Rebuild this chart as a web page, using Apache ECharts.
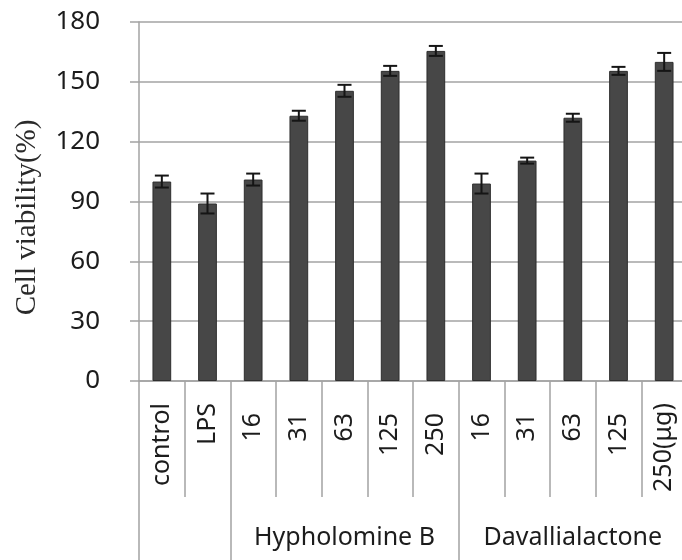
<!DOCTYPE html>
<html>
<head>
<meta charset="utf-8">
<script src="https://cdn.jsdelivr.net/npm/echarts@6/dist/echarts.min.js"></script>
<style>
  html, body { margin: 0; padding: 0; background: #ffffff; }
  #chart { width: 682px; height: 560px; }
</style>
</head>
<body>
<div id="chart"></div>
<script>
// Treatment labels along the category axis
const categories = ['control', 'LPS', '16', '31', '63', '125', '250', '16', '31', '63', '125', '250(μg)'];
// Mean cell viability (%) for each treatment
const viability = [100, 89, 101, 133, 145.5, 155.5, 165.5, 99, 110.5, 132, 155.5, 160];
// Standard deviation for each treatment
const deviation = [3, 5, 3, 2.5, 3, 2.5, 2.5, 5, 1.5, 2, 2, 4.5];
// Compound groups spanning the categories (name, number of categories)
const groupNames = ['', 'Hypholomine B', 'Davallialactone'];
const groupSizes = [2, 5, 5];
// Y-axis ticks
const yTicks = [0, 30, 60, 90, 120, 150, 180];

// Group boundaries and centres in category units
const groupEdges = [0];
groupSizes.forEach(function (s) { groupEdges.push(groupEdges[groupEdges.length - 1] + s); });
const groupCentres = groupSizes.map(function (s, i) { return groupEdges[i] + s / 2; });

const font = '"Noto Sans", "Noto Sans CJK KR", sans-serif';
const gridColor = '#a3a3a3';
const textColor = '#1c1c1c';

const chart = echarts.init(document.getElementById('chart'), null, { renderer: 'canvas' });

chart.setOption({
  backgroundColor: '#ffffff',
  animation: false,
  grid: { left: 139, right: -5, top: 22, bottom: 179, containLabel: false, outerBoundsMode: 'none' },
  xAxis: [
    {
      type: 'category',
      data: categories,
      boundaryGap: true,
      axisLine: { show: true, lineStyle: { color: gridColor, width: 1.5 } },
      axisTick: { show: true, interval: 0, length: 116, lineStyle: { color: gridColor, width: 1.5 } },
      axisLabel: {
        interval: 0,
        rotate: 90,
        margin: 22,
        color: textColor,
        fontFamily: font,
        fontSize: 25,
        formatter: function (v) {
          return /^\d+$/.test(v) ? '{n|' + v + '}' : '{t|' + v + '}';
        },
        rich: {
          n: { fontFamily: font, fontSize: 25, color: textColor, padding: [0, 10, 0, 0] },
          t: { fontFamily: font, fontSize: 25, color: textColor }
        }
      }
    },
    {
      type: 'value',
      position: 'bottom',
      offset: 116,
      min: 0,
      max: groupEdges[groupEdges.length - 1],
      axisLine: { show: false },
      splitLine: { show: false },
      axisTick: {
        show: true,
        customValues: groupEdges,
        length: 63,
        lineStyle: { color: gridColor, width: 1.5 }
      },
      axisLabel: {
        show: true,
        customValues: groupCentres,
        margin: 28,
        color: textColor,
        fontFamily: font,
        fontSize: 25,
        formatter: function (v) {
          const i = groupCentres.indexOf(v);
          return i >= 0 ? groupNames[i] : '';
        }
      }
    }
  ],
  yAxis: {
    type: 'value',
    min: yTicks[0],
    max: yTicks[yTicks.length - 1],
    interval: yTicks[1] - yTicks[0],
    name: 'Cell viability(%)',
    nameLocation: 'middle',
    nameGap: 97,
    nameRotate: 90,
    nameTextStyle: {
      fontFamily: '"Liberation Serif", "DejaVu Serif", serif',
      fontSize: 29,
      color: '#2a2a2a',
      padding: [0, 32, 0, 0]
    },
    axisLine: { show: true, lineStyle: { color: gridColor, width: 1.5 } },
    axisTick: { show: true, inside: false, length: 9, lineStyle: { color: gridColor, width: 1.5 } },
    axisLabel: {
      margin: 39,
      color: textColor,
      fontFamily: font,
      fontSize: 26
    },
    splitLine: { show: true, lineStyle: { color: gridColor, width: 1.5 } }
  },
  series: [
    {
      type: 'bar',
      xAxisIndex: 0,
      data: viability,
      barWidth: '41%',
      itemStyle: { color: '#474747', borderColor: '#2e2e2e', borderWidth: 1 },
      z: 2
    },
    {
      type: 'custom',
      xAxisIndex: 0,
      data: viability.map(function (v, i) { return [i, v, deviation[i]]; }),
      z: 3,
      renderItem: function (params, api) {
        const idx = api.value(0);
        const mean = api.value(1);
        const sd = api.value(2);
        const hi = api.coord([idx, mean + sd]);
        const lo = api.coord([idx, mean - sd]);
        const half = 7;
        const style = { stroke: '#151515', lineWidth: 2 };
        return {
          type: 'group',
          children: [
            { type: 'line', shape: { x1: hi[0], y1: hi[1], x2: lo[0], y2: lo[1] }, style: style },
            { type: 'line', shape: { x1: hi[0] - half, y1: hi[1], x2: hi[0] + half, y2: hi[1] }, style: style },
            { type: 'line', shape: { x1: lo[0] - half, y1: lo[1], x2: lo[0] + half, y2: lo[1] }, style: style }
          ]
        };
      }
    }
  ]
});
</script>
</body>
</html>
